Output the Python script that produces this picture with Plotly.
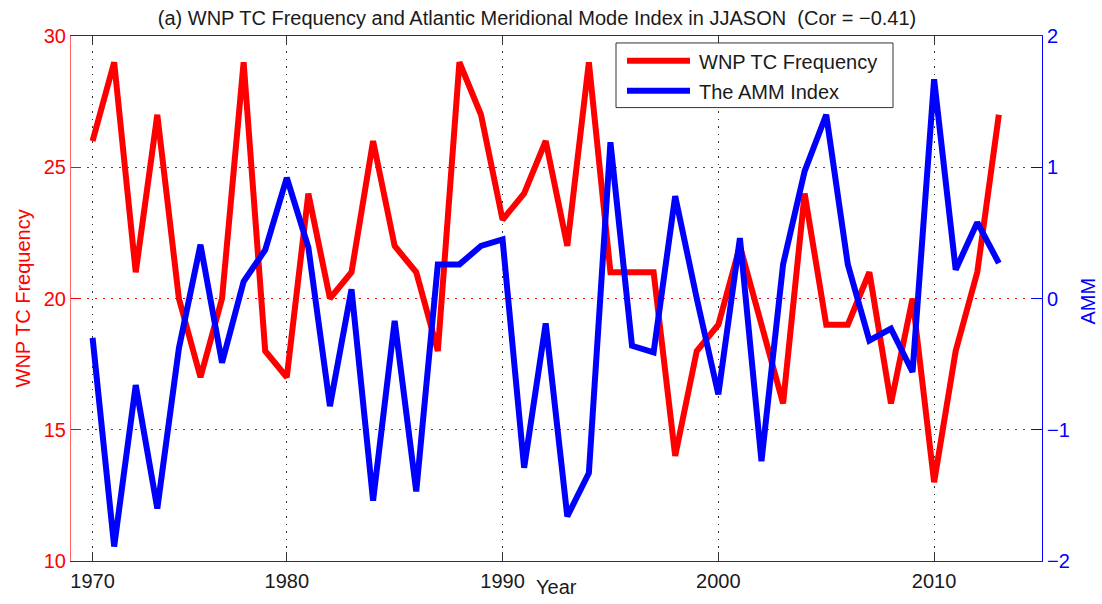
import plotly.graph_objects as go

# ---------------- data ----------------
years = list(range(1971, 2014))
wnp_tc = [26, 29, 21, 27, 20, 17, 20, 29, 18, 17,
          24, 20, 21, 26, 22, 21, 18, 29, 27, 23,
          24, 26, 22, 29, 21, 21, 21, 14, 18, 19,
          22, 19, 16, 24, 19, 19, 21, 16, 20, 13,
          18, 21, 27]
amm_index = [-0.30, -1.89, -0.66, -1.60, -0.38, 0.41, -0.49, 0.13, 0.37, 0.92,
             0.39, -0.82, 0.07, -1.54, -0.17, -1.47, 0.26, 0.26, 0.40, 0.45,
             -1.29, -0.19, -1.66, -1.33, 1.19, -0.36, -0.41, 0.78, 0.00, -0.73,
             0.46, -1.24, 0.26, 0.97, 1.40, 0.26, -0.32, -0.23, -0.56, 1.67,
             0.22, 0.58, 0.27]
x_tickvals = [1971, 1980, 1990, 2000, 2010]
x_ticktext = ["1970", "1980", "1990", "2000", "2010"]
left_ticks = [10, 15, 20, 25, 30]
right_ticks = [-2, -1, 0, 1, 2]
series_names = ["WNP TC Frequency", "The AMM Index"]

FONT = "Liberation Sans, Arial, Helvetica, sans-serif"
FS = 20
RED = "#ff0000"
BLUE = "#0000ff"

fig = go.Figure()
fig.add_trace(go.Scatter(x=years, y=wnp_tc, mode="lines", name=series_names[0],
                         line=dict(color=RED, width=6), yaxis="y", showlegend=False))
fig.add_trace(go.Scatter(x=years, y=amm_index, mode="lines", name=series_names[1],
                         line=dict(color=BLUE, width=6), yaxis="y2", showlegend=False))

W, H = 1102, 604
L, R, T, B = 71, 60, 36, 40
pw, ph = W - L - R, H - T - B


def px(x):
    return (x - L) / pw


def py(y):
    return (H - B - y) / ph


fig.update_layout(
    width=W, height=H,
    margin=dict(l=L, r=R, t=T, b=B, pad=0),
    paper_bgcolor="white", plot_bgcolor="white",
    font=dict(family=FONT, size=FS, color="black"),
    title=dict(text="(a) WNP TC Frequency and Atlantic Meridional Mode Index in JJASON  (Cor = \u22120.41)",
               x=px(537), xref="paper", xanchor="center",
               y=1 - 18 / H, yref="container", yanchor="middle",
               font=dict(family=FONT, size=FS, color="#1a1a1a")),
    xaxis=dict(range=[1970, 2015], tickvals=x_tickvals, ticktext=x_ticktext,
               showgrid=True, gridcolor="#333333", griddash="1.5px,6px", gridwidth=1,
               showline=True, linecolor="#333333", linewidth=1, mirror="ticks",
               ticks="inside", ticklen=9, tickcolor="#333333",
               tickfont=dict(size=FS, color="#1a1a1a"), zeroline=False,
               ticklabelstandoff=2),
    yaxis=dict(range=[10, 30], tickvals=left_ticks, showgrid=True,
               gridcolor=RED, griddash="1.5px,6.5px", gridwidth=1,
               showline=True, linecolor="rgba(255,60,60,0.8)", linewidth=1,
               ticks="inside", ticklen=10, tickcolor=RED,
               tickfont=dict(size=FS, color=RED), zeroline=False),
    yaxis2=dict(range=[-2, 2], tickvals=right_ticks, overlaying="y", side="right",
                showgrid=False, showline=True, linecolor=BLUE, linewidth=1,
                ticks="inside", ticklen=11, tickcolor=BLUE,
                tickfont=dict(size=FS, color=BLUE), zeroline=False),
    showlegend=False,
)

# axis titles as real text
fig.add_annotation(text="Year", x=px(556), y=py(590), xref="paper", yref="paper",
                   showarrow=False, xanchor="center", yanchor="middle",
                   font=dict(family=FONT, size=FS, color="#1a1a1a"))
fig.add_annotation(text="WNP TC Frequency", x=px(22), y=py(300), xref="paper", yref="paper",
                   showarrow=False, textangle=-90, xanchor="center", yanchor="middle",
                   font=dict(family=FONT, size=FS, color=RED))
fig.add_annotation(text="AMM", x=px(1088), y=py(303), xref="paper", yref="paper",
                   showarrow=False, textangle=-90, xanchor="center", yanchor="middle",
                   font=dict(family=FONT, size=FS, color=BLUE))

# legend box (MATLAB style)
fig.add_shape(type="rect", xref="paper", yref="paper",
              x0=px(616), x1=px(893), y0=py(108), y1=py(43),
              line=dict(color="#333333", width=1), fillcolor="white", layer="above")
leg_y = [61, 91]
leg_col = [RED, BLUE]
for name, yy, col in zip(series_names, leg_y, leg_col):
    fig.add_shape(type="line", xref="paper", yref="paper",
                  x0=px(627), x1=px(690), y0=py(yy), y1=py(yy),
                  line=dict(color=col, width=6), layer="above")
    fig.add_annotation(text=name, x=px(697), y=py(yy + 1), xref="paper", yref="paper",
                       showarrow=False, xanchor="left", yanchor="middle",
                       font=dict(family=FONT, size=FS, color="#1a1a1a"))

fig.write_html("out.html")
